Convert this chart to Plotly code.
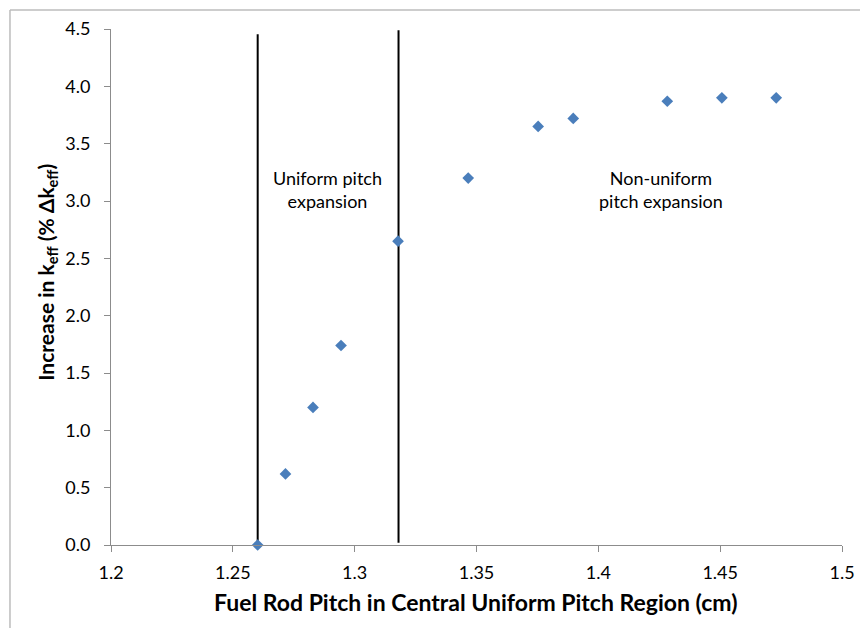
import plotly.graph_objects as go

# Fuel rod pitch (cm) and reactivity increase (% delta k_eff)
pitch_cm = [1.2602, 1.2716, 1.2829, 1.2944, 1.3178, 1.3466, 1.3753, 1.3897, 1.4283, 1.4507, 1.4730]
delta_keff = [0.00, 0.62, 1.20, 1.74, 2.65, 3.20, 3.65, 3.72, 3.87, 3.90, 3.90]

# Region boundaries (vertical separators)
boundary_x = [1.2602, 1.3180]
boundary_y0 = [0.0, 0.02]
boundary_y1 = [4.455, 4.49]

x_ticks = [1.2, 1.25, 1.3, 1.35, 1.4, 1.45, 1.5]
x_tick_text = ["1.2", "1.25", "1.3", "1.35", "1.4", "1.45", "1.5"]
y_ticks = [0.0, 0.5, 1.0, 1.5, 2.0, 2.5, 3.0, 3.5, 4.0, 4.5]

FONT = "Lato"
AXIS_GRAY = "#8c8c8c"

fig = go.Figure()
fig.add_trace(go.Scatter(
    x=pitch_cm, y=delta_keff, mode="markers",
    marker=dict(symbol="diamond", size=9, color="#4a7ebb"),
    showlegend=False, cliponaxis=False,
))

shapes = []
for bx, by0, by1 in zip(boundary_x, boundary_y0, boundary_y1):
    shapes.append(dict(type="line", xref="x", yref="y", x0=bx, x1=bx, y0=by0, y1=by1,
                       line=dict(color="black", width=2), layer="below"))
# outer chart frame (left and top edges)
shapes.append(dict(type="line", xref="paper", yref="paper", x0=-0.1382, x1=1.1, y0=1.0368, y1=1.0368,
                   line=dict(color="#bcbcbc", width=1.5)))
shapes.append(dict(type="line", xref="paper", yref="paper", x0=-0.1382, x1=-0.1382, y0=-0.2, y1=1.0368,
                   line=dict(color="#bcbcbc", width=1.5)))

annotations = [
    dict(x=1.2887, y=3.10, xref="x", yref="y", text="Uniform pitch<br>expansion",
         showarrow=False, font=dict(family=FONT, size=18, color="black"), align="center"),
    dict(x=1.4258, y=3.10, xref="x", yref="y", text="Non-uniform<br>pitch expansion",
         showarrow=False, font=dict(family=FONT, size=18, color="black"), align="center"),
    dict(x=0.4993, y=-0.110, xref="paper", yref="paper",
         text="<b>Fuel Rod Pitch in Central Uniform Pitch Region (cm)</b>",
         showarrow=False, font=dict(family=FONT, size=23, color="black"), yanchor="middle"),
    dict(x=-0.088, y=0.529, xref="paper", yref="paper",
         text="<b>Increase in k<sub>eff</sub> (% \u0394k<sub>eff</sub>)</b>",
         textangle=-90, showarrow=False, font=dict(family=FONT, size=21, color="black"),
         xanchor="center", yanchor="middle"),
]

fig.update_layout(
    width=860, height=628,
    margin=dict(l=111, r=18, t=29, b=83, pad=0, autoexpand=False),
    paper_bgcolor="white", plot_bgcolor="white",
    font=dict(family=FONT, size=18, color="black"),
    shapes=shapes, annotations=annotations,
    xaxis=dict(range=[1.2, 1.5], tickvals=x_ticks, ticktext=x_tick_text, automargin=False,
               showgrid=False, zeroline=False, showline=True, linecolor=AXIS_GRAY, linewidth=1,
               ticks="outside", ticklen=6, tickcolor=AXIS_GRAY, tickfont=dict(size=18),
               ticklabelstandoff=5),
    yaxis=dict(range=[0, 4.5], tickvals=y_ticks, tickformat=".1f", automargin=False,
               showgrid=False, zeroline=False, showline=True, linecolor=AXIS_GRAY, linewidth=1,
               ticks="outside", ticklen=6, tickcolor=AXIS_GRAY, tickfont=dict(size=18),
               ticklabelstandoff=10),
)

fig.write_html("out.html")
